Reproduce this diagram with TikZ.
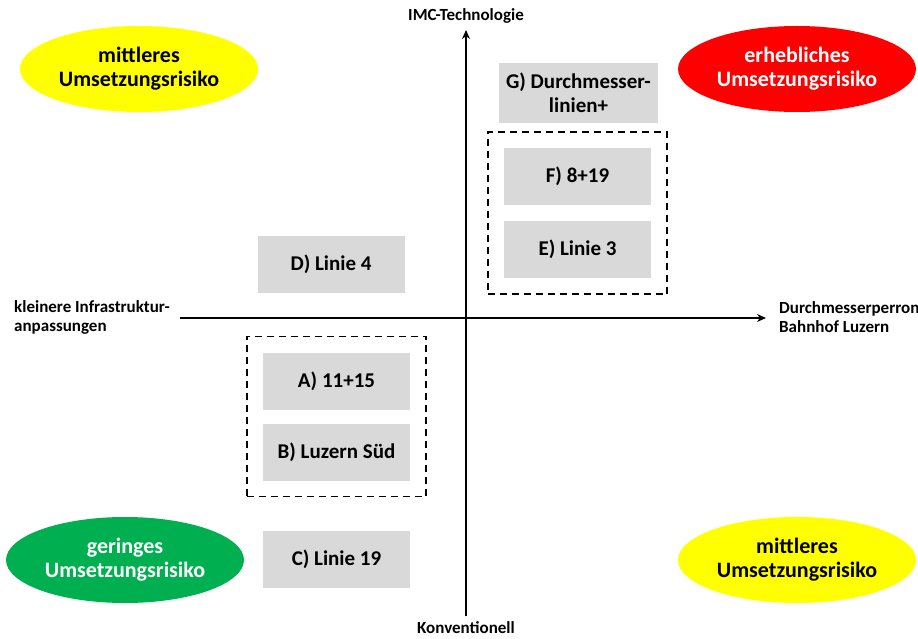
\documentclass[tikz,border=0pt]{standalone}
\usepackage{fontspec}
\setmainfont{Carlito}
\usetikzlibrary{arrows.meta,positioning,fit,shapes.geometric}
\definecolor{boxgray}{RGB}{217,217,217}
\definecolor{riskyellow}{RGB}{255,255,0}
\definecolor{riskred}{RGB}{255,0,0}
\definecolor{riskgreen}{RGB}{0,176,80}

\begin{document}
\begin{tikzpicture}[x=1pt,y=-1pt,>={Stealth[length=9pt,width=8pt]},
  box/.style={fill=boxgray,minimum width=147pt,minimum height=57pt,inner sep=0pt,
    align=center,font=\fontsize{21}{24}\selectfont\bfseries},
  risk/.style={ellipse,minimum width=238pt,minimum height=86pt,inner sep=0pt,
    align=center,font=\fontsize{22}{24}\selectfont\bfseries},
  group/.style={draw,dash pattern=on 7pt off 5pt,line width=1.5pt,inner sep=16pt},
  axlabel/.style={font=\fontsize{17}{19}\selectfont\bfseries,inner sep=0pt,align=left}]
  \useasboundingbox (0,0) rectangle (918,639);
  % axes
  \coordinate (top) at (466,30);
  \coordinate (bot) at (466,616);
  \coordinate (lft) at (180,318);
  \coordinate (rgt) at (766,318);
  \draw[line width=1.6pt,->] (bot) -- (top);
  \draw[line width=1.6pt,->] (lft) -- (rgt);
  \node[axlabel] (imc) at (466,16) {IMC-Technologie};
  \node[axlabel] (konv) at (466,628) {Konventionell};
  \node[axlabel,anchor=west] (infra) at (14,317) {kleinere Infrastruktur-\\anpassungen};
  \node[axlabel,anchor=west] (perron) at (779,317) {Durchmesserperron\\Bahnhof Luzern};
  % risk ellipses
  \node[risk,fill=riskyellow] (riskTL) at (139,69) {mittleres\\Umsetzungsrisiko};
  \node[risk,fill=riskred,text=white] (riskTR) at (797,69) {erhebliches\\Umsetzungsrisiko};
  \node[risk,fill=riskgreen,text=white] (riskBL) at (125,560) {geringes\\Umsetzungsrisiko};
  \node[risk,fill=riskyellow] (riskBR) at (797,560) {mittleres\\Umsetzungsrisiko};
  % variants
  \node[box,minimum width=159pt,minimum height=60pt] (G) at (578.5,93) {G) Durchmesser-\\linien+};
  \node[box] (F) at (577.5,176.5) {F) 8+19};
  \node[box] (E) at (577.5,249.5) {E) Linie 3};
  \node[box] (D) at (331,264.5) {D) Linie 4};
  \node[box] (A) at (336.5,381) {A) 11+15};
  \node[box] (B) at (336.5,452) {B) Luzern Süd};
  \node[box] (C) at (336.5,559) {C) Linie 19};
  \node[group,fit=(F)(E)] (grpFE) {};
  \node[group,fit=(A)(B)] (grpAB) {};
\end{tikzpicture}
\end{document}
